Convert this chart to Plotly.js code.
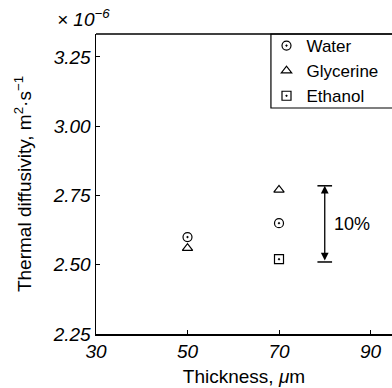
<!DOCTYPE html>
<html><head><meta charset="utf-8">
<script src="https://cdn.plot.ly/plotly-3.0.1.min.js"></script>
<style>html,body{margin:0;padding:0;background:#fff}#c{width:392px;height:388px}</style>
</head><body><div id="c"></div>
<script>
const seriesNames = ["Water", "Glycerine", "Ethanol"];
const thicknessWater = [50, 70];
const waterVals = [2.60, 2.65];
const thicknessGly = [50, 70];
const glyVals = [2.56, 2.77];
const thicknessEth = [70];
const ethVals = [2.52];
const spreadX = 80;
const spreadLow = 2.51;
const spreadHigh = 2.785;
const spreadLabel = "10%";
const xTicks = [30, 50, 70, 90];
const xTickText = ["30", "50", "70", "90"];
const yTicks = [2.25, 2.50, 2.75, 3.00, 3.25];
const yTickText = ["2.25", "2.50", "2.75", "3.00", "3.25"];

const F = "Liberation Sans, Arial, sans-serif";
const it = (a) => a.map(s => "<i>" + s + "</i>");
const mk = (sym) => ({symbol: sym, size: 9, color: "#000", line: {color: "#000", width: 1.2}});
const traces = [
  {x: thicknessWater, y: waterVals, name: seriesNames[0], mode: "markers", type: "scatter", marker: mk("circle-open-dot")},
  {x: thicknessGly, y: glyVals, name: seriesNames[1], mode: "markers", type: "scatter", marker: mk("triangle-up-open")},
  {x: thicknessEth, y: ethVals, name: seriesNames[2], mode: "markers", type: "scatter", marker: mk("square-open-dot")}
];
const xmin = 30, xmax = 94.7, ymin = 2.25, ymax = 3.333;
const layout = {
  width: 392, height: 388,
  margin: {l: 96, r: 0, t: 34, b: 54, autoexpand: false},
  paper_bgcolor: "#fff", plot_bgcolor: "#fff",
  font: {family: F, color: "#000"},
  showlegend: true,
  legend: {x: 0.576, y: 1.02, xanchor: "left", yanchor: "top", borderwidth: 0,
           font: {size: 17, family: F}, bgcolor: "rgba(0,0,0,0)", itemwidth: 30, tracegroupgap: 0},
  xaxis: {range: [xmin, xmax], tickvals: xTicks, ticktext: it(xTickText), ticks: "inside", ticklen: 4, tickcolor: "#000",
          showline: true, linecolor: "#000", linewidth: 1.5, showgrid: false, zeroline: false,
          tickfont: {size: 19, family: F, style: "italic"},
          title: {text: "Thickness, <i>μ</i>m", font: {size: 19, family: F}, standoff: 8}},
  yaxis: {range: [ymin, ymax], tickvals: yTicks, ticktext: it(yTickText), ticks: "inside", ticklen: 4, tickcolor: "#000",
          showline: true, linecolor: "#000", linewidth: 1.5, showgrid: false, zeroline: false,
          tickfont: {size: 19, family: F, style: "italic"},
          title: {text: "Thermal diffusivity, m<sup>2</sup>·s<sup>−1</sup>", font: {size: 19, family: F}, standoff: 16}},
  shapes: [
    {type: "line", xref: "paper", yref: "paper", x0: 0, x1: 1, y0: 1, y1: 1, line: {color: "#000", width: 1.5}},
    {type: "rect", xref: "paper", yref: "paper", x0: 0.591, x1: 1.1, y0: 0.7533, y1: 1, line: {color: "#000", width: 1.2}, fillcolor: "rgba(0,0,0,0)", layer: "below"},
    {type: "line", xref: "x", yref: "y", x0: spreadX - 1.6, x1: spreadX + 1.6, y0: spreadHigh, y1: spreadHigh, line: {color: "#000", width: 1.5}},
    {type: "line", xref: "x", yref: "y", x0: spreadX - 1.6, x1: spreadX + 1.6, y0: spreadLow, y1: spreadLow, line: {color: "#000", width: 1.5}}
  ],
  annotations: [
    {xref: "x", yref: "y", x: spreadX, y: spreadHigh, ax: spreadX, ay: spreadLow, axref: "x", ayref: "y",
     showarrow: true, arrowhead: 2, startarrowhead: 2, arrowside: "end+start", arrowsize: 1.2, arrowwidth: 1.3, arrowcolor: "#000", text: ""},
    {xref: "x", yref: "y", x: spreadX + 1.5, y: (spreadLow + spreadHigh) / 2, xanchor: "left", yanchor: "middle",
     text: spreadLabel, showarrow: false, font: {size: 18, family: F}},
    {xref: "paper", yref: "paper", x: -0.138, y: 1.0, xanchor: "left", yanchor: "bottom", yshift: 2,
     text: "<i>× 10<sup>−6</sup></i>", showarrow: false, font: {size: 19, family: F, style: "italic"}}
  ]
};
Plotly.newPlot("c", traces, layout, {displayModeBar: false, staticPlot: true});
</script></body></html>
